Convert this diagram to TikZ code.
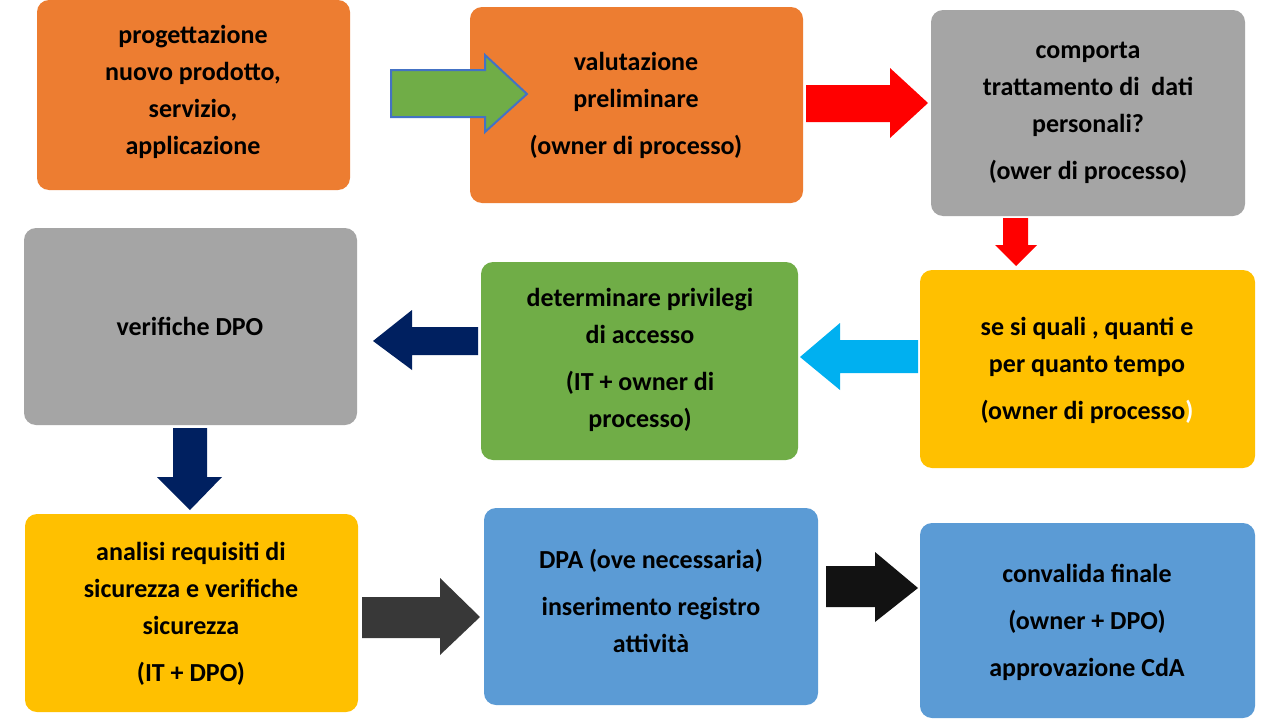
\documentclass[tikz,border=0pt]{standalone}
\usepackage{fontspec}
\setmainfont{Carlito}
\definecolor{cor}{HTML}{ED7D31}
\definecolor{cgr}{HTML}{A5A5A5}
\definecolor{cgn}{HTML}{70AD47}
\definecolor{cye}{HTML}{FFC000}
\definecolor{cbl}{HTML}{5B9BD5}
\definecolor{cnv}{HTML}{002060}
\definecolor{csk}{HTML}{00B0F0}
\definecolor{cob}{HTML}{4472C4}
\begin{document}
\begin{tikzpicture}[x=1pt,y=-1pt,
  box/.style={rounded corners=12pt,inner sep=0pt},
  txt/.style={align=center,font=\fontsize{26}{37}\selectfont\bfseries,text=black}]
\useasboundingbox (0,0) rectangle (1280,720);
\fill[white] (0,0) rectangle (1280,720);
% boxes
\fill[cor,box] (37,0) rectangle (350,190);
\node[txt] (b1) at (193,92) {progettazione\\nuovo prodotto,\\servizio,\\applicazione};
\fill[cor,box] (470,7) rectangle (803,203);
\node[txt] (b2) at (636,105) {valutazione\\preliminare\\[10pt](owner di processo)};
\fill[cgr,box] (931,10) rectangle (1245,216);
\node[txt] (b3) at (1088,113) {comporta\\trattamento di\ \ dati\\personali?\\[10pt](ower di processo)};
\fill[cgr,box] (24,228) rectangle (357,425);
\node[txt] (b4) at (190,326) {verifiche DPO};
\fill[cgn,box] (481,262) rectangle (798,460);
\node[txt] (b5) at (640,360) {determinare privilegi\\di accesso\\[10pt](IT + owner di\\processo)};
\fill[cye,box] (920,270) rectangle (1255,468);
\node[txt] (b6) at (1087,370) {se si quali , quanti e\\per quanto tempo\\[10pt](owner di processo\textcolor{white}{)}};
\fill[cye,box] (25,514) rectangle (358,712);
\node[txt] (b7) at (191,614) {analisi requisiti di\\sicurezza e verifiche\\sicurezza\\[10pt](IT + DPO)};
\fill[cbl,box] (484,508) rectangle (818,705);
\node[txt] (b8) at (651,601) {DPA (ove necessaria)\\[10pt]inserimento registro\\attività};
\fill[cbl,box] (920,523) rectangle (1255,718);
\node[txt] (b9) at (1087,622) {convalida finale\\[10pt](owner + DPO)\\[10pt]approvazione CdA};
% arrows
\filldraw[fill=cgn,draw=cob,line width=2pt] (391,70)--(485,70)--(485,55)--(527,94)--(485,132)--(485,117)--(391,117)--cycle;
\fill[red] (806,85)--(890,85)--(890,68)--(928,103)--(890,138)--(890,122)--(806,122)--cycle;
\fill[red] (1003,218)--(1028,218)--(1028,245)--(1037,245)--(1016,266)--(995,245)--(1003,245)--cycle;
\fill[csk] (918,340)--(840,340)--(840,323)--(800,357)--(840,390)--(840,373)--(918,373)--cycle;
\fill[cnv] (478,327)--(412,327)--(412,310)--(373,341)--(412,370)--(412,355)--(478,355)--cycle;
\fill[cnv] (173,428)--(207,428)--(207,477)--(222,477)--(190,510)--(157,477)--(173,477)--cycle;
\fill[black!78] (362,597)--(440,597)--(440,578)--(480,617)--(440,655)--(440,638)--(362,638)--cycle;
\fill[black!93] (826,566)--(875,566)--(875,552)--(918,588)--(875,622)--(875,607)--(826,607)--cycle;
\end{tikzpicture}
\end{document}
